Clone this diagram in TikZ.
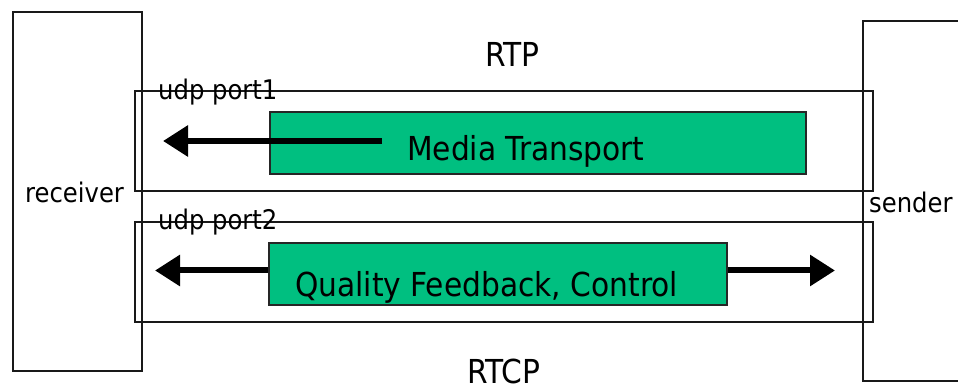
\documentclass[tikz,border=0pt]{standalone}
\usepackage{fontspec}
\setmainfont{DejaVu Sans Condensed}
\usetikzlibrary{arrows.meta}
\definecolor{mediagreen}{RGB}{0,191,128}
\tikzset{
  host/.style={draw=black!90, line width=1.6pt, fill=none, anchor=north west, inner sep=0pt},
  portbox/.style={draw=black!90, line width=1.6pt, anchor=north west, inner sep=0pt},
  flowbox/.style={draw=black!85, line width=1.6pt, fill=mediagreen, anchor=north west, inner sep=0pt},
  lbl/.style={anchor=base west, inner sep=0pt, font=\fontsize{27}{30}\selectfont},
  biglbl/.style={anchor=base west, inner sep=0pt, font=\fontsize{33}{36}\selectfont},
  flow/.style={line width=6pt, -{Triangle[length=25pt, width=30pt]}}
}
\begin{document}
\begin{tikzpicture}[x=1pt, y=-1pt]
\useasboundingbox (0,0) rectangle (958,387);
\clip (0,0) rectangle (958,387);
\fill[white] (0,0) rectangle (958,387);

% end hosts
\node[host, minimum width=129pt, minimum height=359pt] (receiver) at (12,11) {};
\node[host, minimum width=120pt, minimum height=360pt] (sender) at (862,20) {};

% udp port channels
\node[portbox, minimum width=738pt, minimum height=100pt] (port1) at (134,90) {};
\node[portbox, minimum width=738pt, minimum height=100pt] (port2) at (134,221) {};

% payload boxes
\node[flowbox, minimum width=536pt, minimum height=62pt] (media) at (269,111) {};
\node[flowbox, minimum width=458pt, minimum height=62pt] (quality) at (268,242) {};

% labels
\node[biglbl] (rtp) at (485,67) {RTP};
\node[biglbl] (rtcp) at (467,383) {RTCP};
\node[lbl] (p1lbl) at (158,100) {udp port1};
\node[lbl] (p2lbl) at (158,230) {udp port2};
\node[lbl] (rlbl) at (25,203) {receiver};
\node[lbl] (slbl) at (869,213) {sender};
\node[biglbl] (mlbl) at (407,161) {Media Transport};
\node[biglbl] (qlbl) at (295,296) {Quality Feedback, Control};

% arrow ends
\coordinate (mtail) at (382,141);
\coordinate (mtip) at (163,141);
\coordinate (qltip) at (155,270.5);
\coordinate (qrtip) at (835,270.5);

% data flows
\draw[flow] (mtail) -- (mtip);
\draw[flow] (quality.west |- qltip) -- (qltip);
\draw[flow] (quality.east |- qrtip) -- (qrtip);
\end{tikzpicture}
\end{document}
